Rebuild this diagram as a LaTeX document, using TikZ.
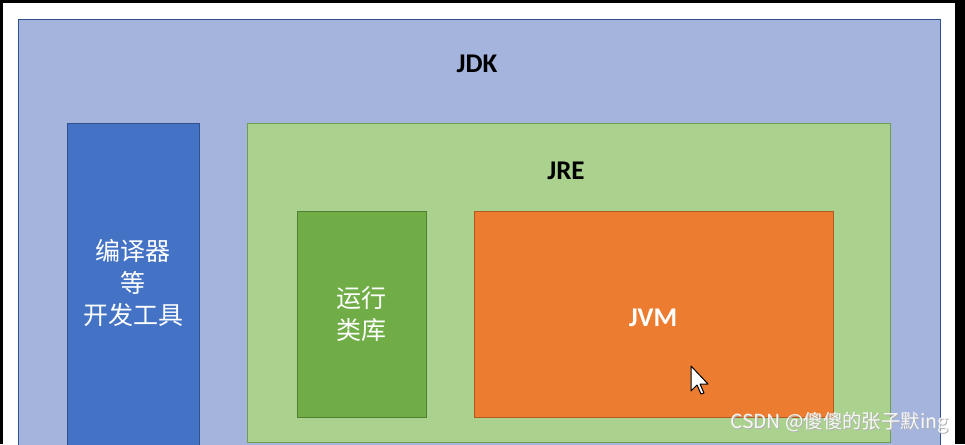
\documentclass[tikz,border=0pt]{standalone}
\usepackage{fontspec}
\setmainfont{Carlito}
\newfontfamily\cjk{Noto Sans CJK SC}
\usetikzlibrary{positioning}
\definecolor{JdkBlue}{HTML}{A4B4DD}
\definecolor{JdkLine}{HTML}{2F528F}
\definecolor{ToolBlue}{HTML}{4472C4}
\definecolor{JreGreen}{HTML}{ABD18F}
\definecolor{JreLine}{HTML}{6E9F4E}
\definecolor{LibGreen}{HTML}{70AD47}
\definecolor{LibLine}{HTML}{507E32}
\definecolor{JvmOrange}{HTML}{EC7C30}
\definecolor{JvmLine}{HTML}{AE5A21}

\begin{document}
\begin{tikzpicture}[x=1pt,y=-1pt,
  box/.style={draw,line width=1pt,rectangle,inner sep=0pt},
  title/.style={font=\fontsize{27}{30}\selectfont\bfseries},
  cjktext/.style={font=\cjk\fontsize{25}{32}\selectfont,text=white,align=center}]
  \useasboundingbox (0,0) rectangle (965,444);
  \fill[black] (0,0) rectangle (965,444);
  \fill[white] (3,3) rectangle (955,444);
  \clip (0,0) rectangle (965,444);
  % outer JDK
  \node[box,draw=JdkLine,fill=JdkBlue,minimum width=922,minimum height=440] (jdk) at (479,240) {};
  \node[title] (jdklabel) at (477,64) {JDK};
  % tools
  \node[box,draw=JdkLine,fill=ToolBlue,minimum width=132,minimum height=337] (tools) at (133,291.5) {};
  \node[cjktext] (toolslabel) at (133,283) {编译器\\等\\开发工具};
  % JRE
  \node[box,draw=JreLine,fill=JreGreen,minimum width=643,minimum height=319] (jre) at (568.5,282.5) {};
  \node[title] (jrelabel) at (566,171) {JRE};
  \node[box,draw=LibLine,fill=LibGreen,minimum width=129,minimum height=206,cjktext] (lib) at (361.5,314) {运行\\类库};
  \node[box,draw=JvmLine,fill=JvmOrange,minimum width=359,minimum height=206] (jvm) at (653.5,314) {};
  \node[title,text=white] (jvmlabel) at (653,318) {JVM};
  % cursor
  \draw[fill=white,line width=1pt,line join=round] (691,366) -- (691,391) -- (697,385) -- (701,394) -- (704,393) -- (700,384) -- (708,384) -- cycle;
  % watermark
  \node[anchor=west,font=\cjk\fontsize{19.4}{22}\selectfont,text=gray!60,inner sep=0pt] (markshadow) at (731,424) {CSDN @傻傻的张子默ing};
  \node[anchor=west,font=\cjk\fontsize{19.4}{22}\selectfont,text=white,opacity=0.9,inner sep=0pt] (mark) at (730,423) {CSDN @傻傻的张子默ing};
\end{tikzpicture}
\end{document}
